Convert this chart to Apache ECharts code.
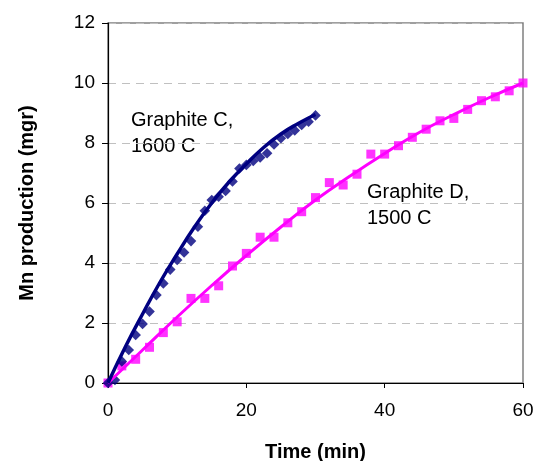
<!DOCTYPE html>
<html>
<head>
<meta charset="utf-8">
<script src="https://cdn.jsdelivr.net/npm/echarts@6/dist/echarts.min.js"></script>
<style>html,body{margin:0;padding:0;background:#fff}#c{width:535px;height:461px}</style>
</head>
<body>
<div id="c"></div>
<script>
// Graphite D, 1500 C – measured points (time min, Mn mgr)
const dTime = [0,2,4,6,8,10,12,14,16,18,20,22,24,26,28,30,32,34,36,38,40,42,44,46,48,50,52,54,56,58,60];
const dValues = [0,0.57,0.79,1.19,1.68,2.04,2.82,2.82,3.24,3.9,4.32,4.86,4.86,5.34,5.71,6.18,6.68,6.6,6.96,7.63,7.63,7.91,8.19,8.46,8.74,8.82,9.12,9.41,9.54,9.74,10.0];
// Graphite D trend line
const dFitTime = [0,5,10,15,20,25,30,35,40,45,50,55,60];
const dFitValues = [0,1.1,2.2,3.25,4.25,5.2,6.1,6.9,7.65,8.35,8.95,9.5,10.0];

// Graphite C, 1600 C – measured points
const cTime = [0,1,2,3,4,5,6,7,8,9,10,11,12,13,14,15,16,17,18,19,20,21,22,23,24,25,26,27,28,29,30];
const cValues = [0,0.1,0.72,1.1,1.6,1.97,2.38,2.93,3.32,3.78,4.1,4.35,4.73,5.21,5.74,6.1,6.21,6.4,6.72,7.15,7.27,7.4,7.52,7.66,7.95,8.16,8.3,8.42,8.6,8.71,8.92];
// Graphite C trend line
const cFitTime = [0,2.5,5,7.5,10,12.5,15,17.5,20,22.5,25,27.5,30];
const cFitValues = [0,1.2,2.3,3.35,4.3,5.2,6.0,6.7,7.3,7.85,8.3,8.65,8.95];

const xTicks = [0,20,40,60];
const yTicks = [0,2,4,6,8,10,12];

const zip = (a,b)=>a.map((v,i)=>[v,b[i]]);
const FONT = '"Liberation Sans", Arial, sans-serif';

const chart = echarts.init(document.getElementById('c'), null, {renderer:'canvas'});
chart.setOption({
  animation:false,
  backgroundColor:'#fff',
  grid:{left:108, right:12, top:23, bottom:78, containLabel:false, outerBoundsMode:'none',
        show:true, borderColor:'#808080', borderWidth:1.5, backgroundColor:'transparent'},
  xAxis:{
    type:'value', min:xTicks[0], max:xTicks[xTicks.length-1], interval:20,
    name:'Time (min)', nameLocation:'middle', nameGap:59,
    nameTextStyle:{fontFamily:FONT, fontWeight:'bold', fontSize:20, color:'#000'},
    axisLine:{show:true, onZero:false, lineStyle:{color:'#000', width:1.2}},
    axisTick:{show:true, length:5, lineStyle:{color:'#000'}},
    axisLabel:{fontFamily:FONT, fontSize:19, color:'#000', margin:18},
    splitLine:{show:false}
  },
  yAxis:{
    type:'value', min:yTicks[0], max:yTicks[yTicks.length-1], interval:2,
    name:'Mn production (mgr)', nameLocation:'middle', nameGap:71,
    nameTextStyle:{fontFamily:FONT, fontWeight:'bold', fontSize:20, color:'#000'},
    axisLine:{show:true, onZero:false, lineStyle:{color:'#000', width:1.2}},
    axisTick:{show:true, length:6, lineStyle:{color:'#000'}},
    axisLabel:{fontFamily:FONT, fontSize:19, color:'#000', margin:13},
    splitLine:{show:true, lineStyle:{color:'#c0c0c0', type:[8,6], width:1}}
  },
  series:[
    {type:'scatter', name:'Graphite D pts', data:zip(dTime,dValues), symbol:'rect', symbolSize:9,
     itemStyle:{color:'#ff00ff'}, z:3},
    {type:'line', name:'Graphite D fit', data:zip(dFitTime,dFitValues), smooth:true, showSymbol:false,
     lineStyle:{color:'#ff00ff', width:3}, z:4},
    {type:'scatter', name:'Graphite C pts', data:zip(cTime,cValues), symbol:'rect', symbolRotate:45, symbolSize:7.5,
     itemStyle:{color:'#000080'}, z:3},
    {type:'line', name:'Graphite C fit', data:zip(cFitTime,cFitValues), smooth:true, showSymbol:false,
     lineStyle:{color:'#000080', width:3.5}, z:4}
  ],
  graphic:[
    {type:'text', left:131, top:107, style:{text:'Graphite C,\n1600 C', font:'20px '+FONT, fill:'#000', lineHeight:26}},
    {type:'text', left:367, top:179, style:{text:'Graphite D,\n1500 C', font:'20px '+FONT, fill:'#000', lineHeight:26}}
  ]
});
</script>
</body>
</html>
